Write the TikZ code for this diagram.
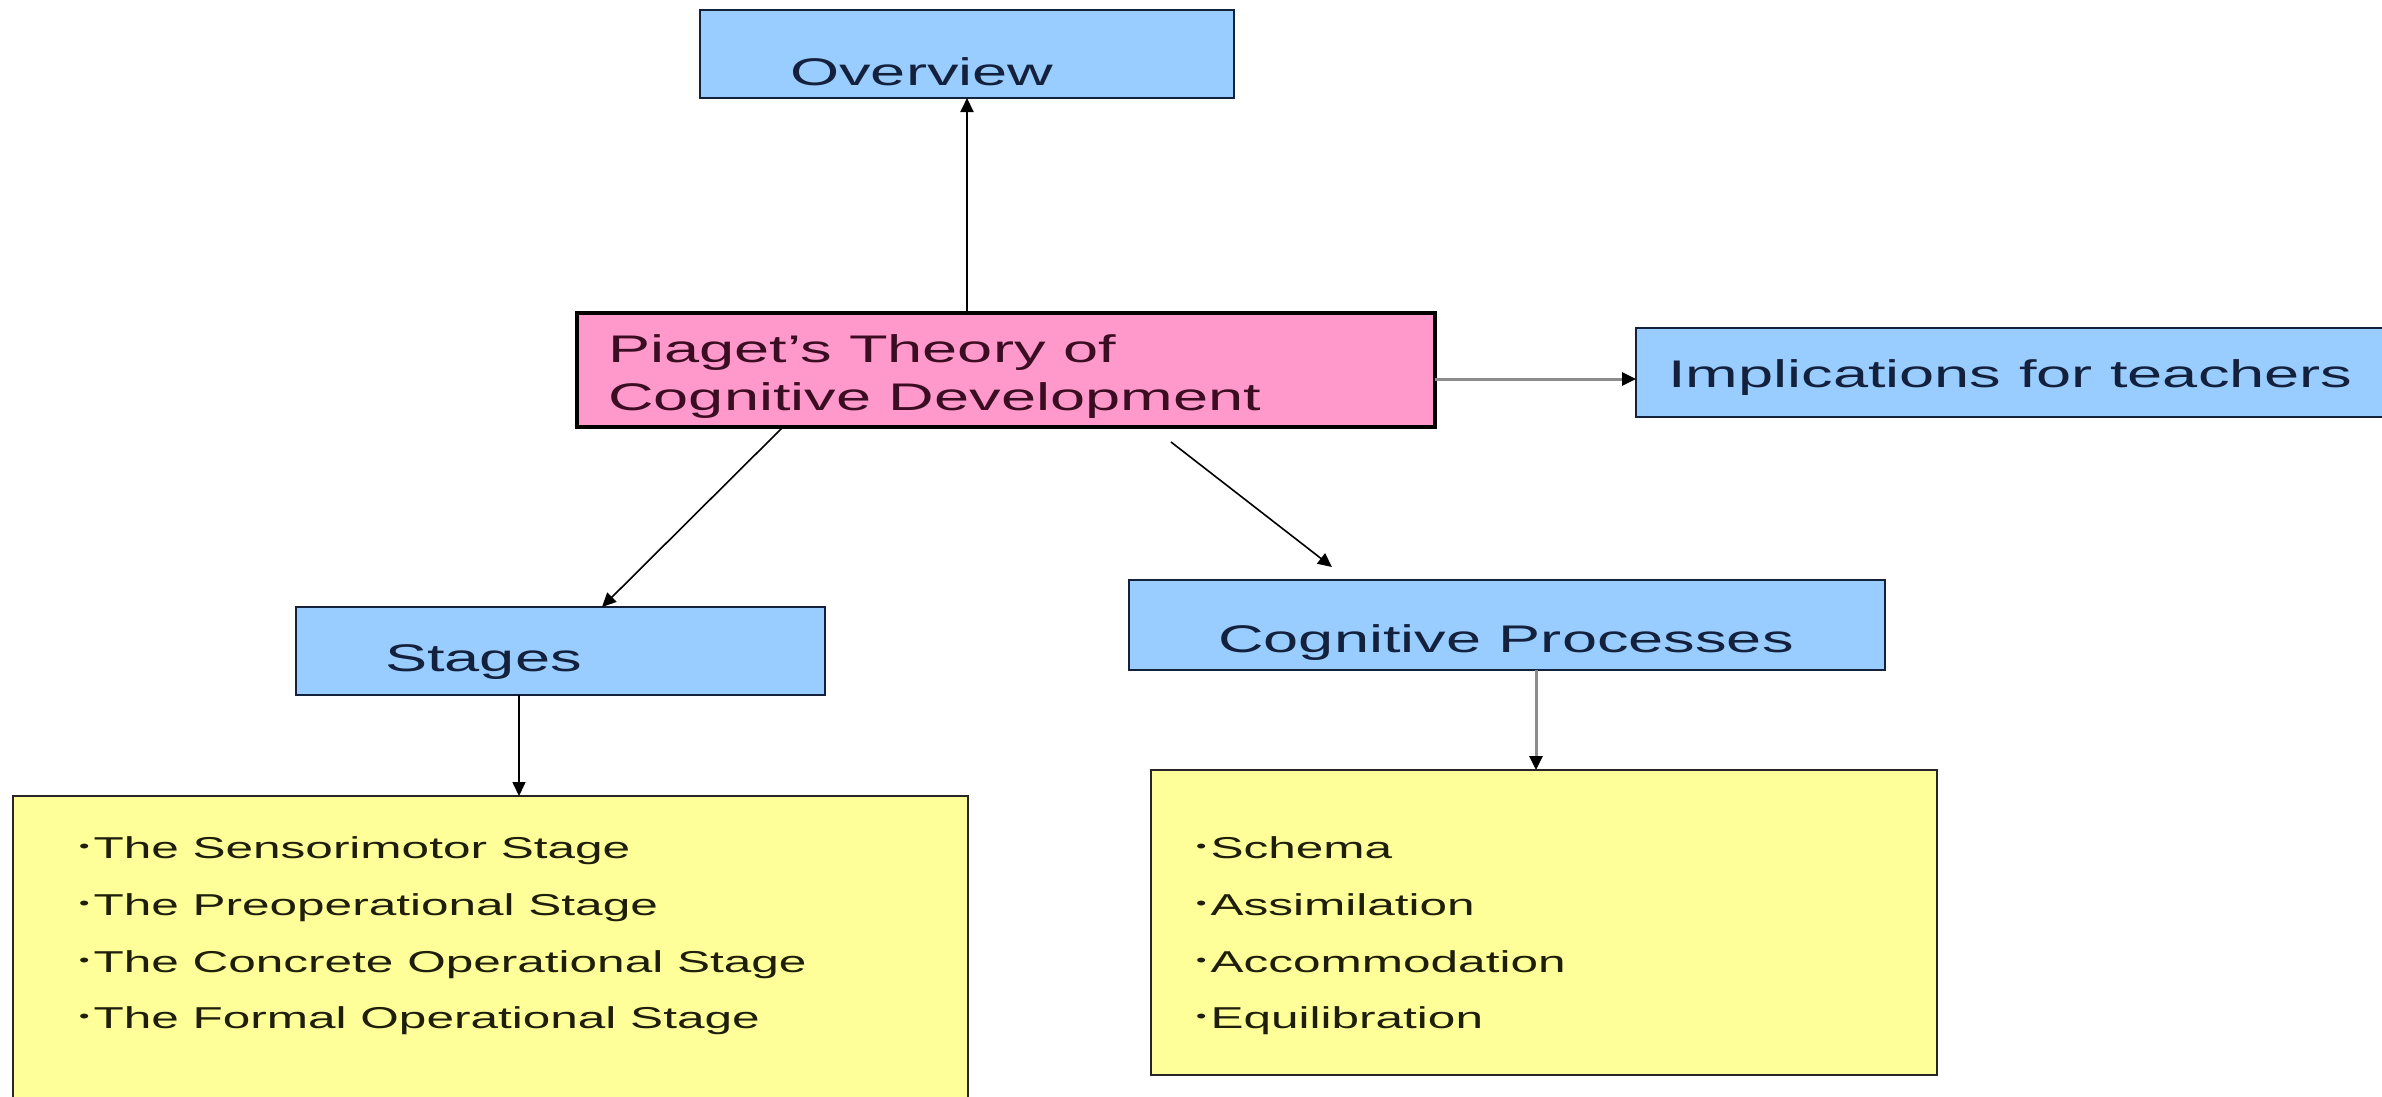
\documentclass[tikz,border=0pt]{standalone}
\usepackage{fontspec}
\usetikzlibrary{arrows.meta,calc}
\newfontfamily\bigf[FakeStretch=1.64]{Liberation Sans}
\definecolor{bluefill}{HTML}{99CCFF}
\definecolor{pinkfill}{HTML}{FF99CC}
\definecolor{yelfill}{HTML}{FFFF99}
\definecolor{navy}{HTML}{14213D}
\definecolor{maroon}{HTML}{3B0D22}
\definecolor{olive}{HTML}{1E1E0A}
\definecolor{arrgray}{HTML}{8C8C8C}
\newcommand{\bul}{\raisebox{5.5pt}{\fontsize{18}{18}\selectfont •}\kern4pt}
\tikzset{
  box/.style={rectangle, inner sep=0pt, outer sep=0pt},
  bluebox/.style={box, fill=bluefill, draw=navy, line width=2pt},
  pinkbox/.style={box, fill=pinkfill, draw=black, line width=4pt},
  yelbox/.style={box, fill=yelfill, draw=black!85, line width=2pt},
  bigtext/.style={anchor=base west, inner sep=0pt, font=\bigf\fontsize{38.5}{46}\selectfont},
  listtext/.style={anchor=base west, inner sep=0pt, text=olive, font=\bigf\fontsize{30.2}{36}\selectfont},
  arr/.style={draw=black, line width=2pt, -{Triangle[length=14pt,width=13pt]}},
  grayarr/.style={draw=arrgray, line width=3pt, -{Triangle[length=14pt,width=13pt,color=black]}}
}
\begin{document}
\begin{tikzpicture}[x=1pt,y=-1pt]
\useasboundingbox[fill=white] (0,0) rectangle (2382,1096);
% boxes
\node[bluebox, minimum width=534pt, minimum height=88pt] (ov) at (967,54) {};
\node[pinkbox, minimum width=858pt, minimum height=114pt] (pink) at (1006,370) {};
\node[bluebox, minimum width=756pt, minimum height=89pt] (impl) at (2014,372.5) {};
\node[bluebox, minimum width=529pt, minimum height=88pt] (stages) at (560.5,651) {};
\node[bluebox, minimum width=756pt, minimum height=90pt] (cog) at (1507,625) {};
\node[yelbox, minimum width=955pt, minimum height=309pt] (yl) at (490.5,950.5) {};
\node[yelbox, minimum width=786pt, minimum height=305pt] (yr) at (1544,922.5) {};
% connectors
\draw[arr] (pink.north -| ov.south) -- (ov.south);
\draw[grayarr] (pink.east |- 0,379) -- (impl.west |- 0,379);
\draw[arr, line width=1.6pt] ($(pink.south west)+(206,0)$) -- ($(stages.north west)+(306,0)$);
\draw[arr, line width=1.6pt] ($(pink.south west)+(594,15)$) -- ($(cog.north west)+(203,-13)$);
\draw[arr, line width=1.6pt] ($(stages.south west)+(223,0)$) -- ($(yl.north west)+(506,0)$);
\draw[grayarr] ($(cog.south west)+(407,0)$) -- ($(yr.north west)+(385,0)$);
% texts
\node[bigtext, text=navy] (tov) at (790,85) {Overview};
\node[bigtext, text=maroon] (tp1) at (608,362) {Piaget’s Theory of};
\node[bigtext, text=maroon] (tp2) at (608,410) {Cognitive Development};
\node[bigtext, text=navy] (timpl) at (1668,387) {Implications for teachers};
\node[bigtext, text=navy] (tst) at (385,671) {Stages};
\node[bigtext, text=navy] (tcog) at (1218,652) {Cognitive Processes};
\node[listtext] (l1) at (79,858) {\bul The Sensorimotor Stage};
\node[listtext] (l2) at (79,915) {\bul The Preoperational Stage};
\node[listtext] (l3) at (79,972) {\bul The Concrete Operational Stage};
\node[listtext] (l4) at (79,1028) {\bul The Formal Operational Stage};
\node[listtext] (r1) at (1196,858) {\bul Schema};
\node[listtext] (r2) at (1196,915) {\bul Assimilation};
\node[listtext] (r3) at (1196,972) {\bul Accommodation};
\node[listtext] (r4) at (1196,1028) {\bul Equilibration};
\end{tikzpicture}
\end{document}
